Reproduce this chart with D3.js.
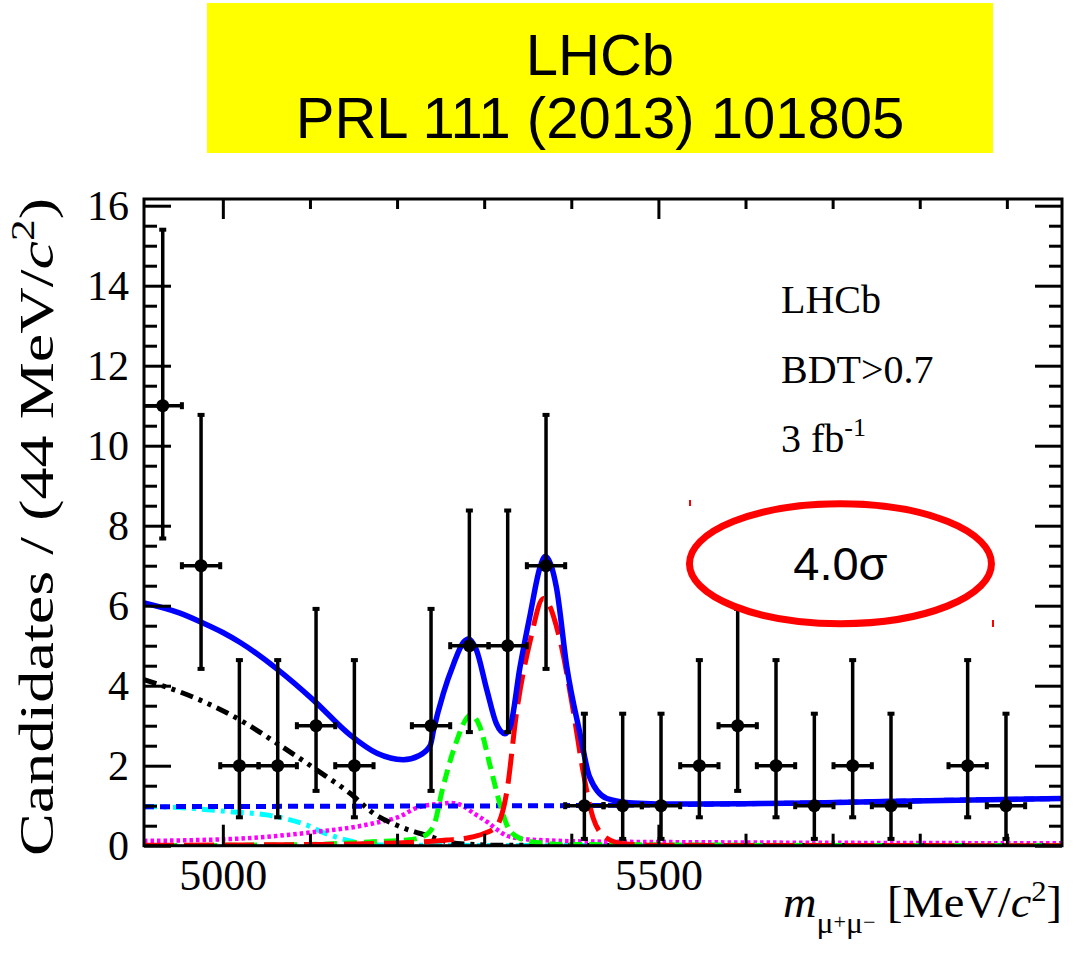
<!DOCTYPE html>
<html>
<head>
<meta charset="utf-8">
<script src="https://cdn.jsdelivr.net/npm/d3@7"></script>
<style>
html,body{margin:0;padding:0;background:#fff;}
svg{display:block;}
</style>
</head>
<body>
<svg id="chart" width="1082" height="979"></svg>
<script>
// ---------------- data ----------------
const binCenters = [4931, 4975, 5019, 5063, 5107, 5151, 5239, 5283, 5327, 5371, 5415, 5459, 5503, 5547, 5591, 5635, 5679, 5723, 5767, 5855, 5899];
const counts     = [11, 7, 2, 2, 3, 2, 3, 5, 5, 7, 1, 1, 1, 2, 3, 2, 1, 2, 1, 2, 1];
const errLow     = [3.32, 2.58, 1.29, 1.29, 1.63, 1.29, 1.63, 2.16, 2.16, 2.58, 0.83, 0.83, 0.83, 1.29, 1.63, 1.29, 0.83, 1.29, 0.83, 1.29, 0.83];
const errHigh    = [4.40, 3.77, 2.64, 2.64, 2.92, 2.64, 2.92, 3.38, 3.38, 3.77, 2.30, 2.30, 2.30, 2.64, 2.92, 2.64, 2.30, 2.64, 2.30, 2.64, 2.30];
const binHalfWidth = 22;

// total fit (blue solid)
const totalMass = [4909.5, 4950, 4974, 5000, 5020, 5062, 5104, 5146, 5177, 5207, 5225, 5238, 5242, 5253, 5265, 5276, 5282, 5291, 5303, 5314, 5324, 5330, 5341, 5353, 5364, 5370, 5383, 5395, 5410, 5421, 5441, 5471, 5525, 5600, 5678, 5792, 5963.3];
const totalVal  = [6.07, 5.82, 5.6, 5.33, 5.08, 4.42, 3.64, 2.77, 2.31, 2.15, 2.25, 2.5, 2.9, 3.8, 4.55, 5.08, 5.17, 4.9, 3.9, 3.05, 2.8, 2.98, 4.45, 5.8, 6.95, 7.23, 6.45, 4.45, 2.8, 1.72, 1.18, 1.07, 1.04, 1.05, 1.07, 1.12, 1.18];
// Bs signal (red long dashes)
const bsMass = [4909.5, 5100, 5200, 5257, 5282, 5299, 5314, 5326, 5337, 5353, 5368, 5387, 5402, 5414, 5425, 5440, 5460, 5500, 5963.3];
const bsVal  = [0.01, 0.03, 0.07, 0.14, 0.2, 0.3, 0.48, 1.35, 3.3, 5.14, 6.18, 5.14, 3.4, 1.8, 0.7, 0.2, 0.05, 0.01, 0];
// Bd signal (green dashes)
const bdMass = [4909.5, 5100, 5172, 5211, 5230, 5242, 5252, 5265, 5285, 5295, 5307, 5318, 5326, 5337, 5360, 5400, 5963.3];
const bdVal  = [0.0, 0.03, 0.1, 0.14, 0.23, 0.5, 1.4, 2.4, 3.27, 2.98, 1.98, 1.05, 0.52, 0.23, 0.08, 0.03, 0];
// partially reconstructed background (black dash-dot-dot)
const prMass = [4909.5, 4974, 5020, 5062, 5108, 5146, 5173, 5203, 5238, 5257, 5280, 5320, 5963.3];
const prVal  = [4.15, 3.64, 3.14, 2.56, 1.89, 1.31, 0.81, 0.48, 0.23, 0.1, 0.04, 0.01, 0];
// combinatorial background (blue short dashes)
const combMass = [4909.5, 5100, 5300, 5450, 5525, 5678, 5792, 5963.3];
const combVal  = [0.975, 0.985, 0.995, 1.01, 1.03, 1.07, 1.12, 1.18];
// cyan dash-dot background
const cyMass = [4909.5, 4950, 4982, 5008, 5050, 5075, 5096, 5115, 5142, 5160, 5200, 5963.3];
const cyVal  = [0.975, 0.955, 0.9, 0.85, 0.77, 0.66, 0.52, 0.33, 0.14, 0.05, 0.01, 0];
// magenta dotted background
const mgMass = [4909.5, 5012, 5096, 5173, 5203, 5223, 5250, 5262, 5275, 5288, 5303, 5315, 5326, 5345, 5364, 5441, 5963.3];
const mgVal  = [0.12, 0.17, 0.32, 0.56, 0.73, 0.95, 1.05, 1.07, 1.0, 0.81, 0.6, 0.4, 0.25, 0.17, 0.14, 0.1, 0.06];

const xMajorTicks = [5000, 5500];
const xMinorTicks = [5100, 5200, 5300, 5400, 5600, 5700, 5800, 5900];
const yMajorTicks = [0, 2, 4, 6, 8, 10, 12, 14, 16];
const yMinorTicks = [0.5,1,1.5,2.5,3,3.5,4.5,5,5.5,6.5,7,7.5,8.5,9,9.5,10.5,11,11.5,12.5,13,13.5,14.5,15,15.5];

const titleLines = ["LHCb", "PRL 111 (2013) 101805"];
const legendLines = ["LHCb", "BDT>0.7"];
const significance = "4.0σ";

// ---------------- layout ----------------
const L = 144, R = 1062, T = 199, B = 845.7;
const x = d3.scaleLinear().domain([4909.5, 5963.3]).range([L, R]);
const y = d3.scaleLinear().domain([0, 16]).range([B, 205.7]);

const svg = d3.select("#chart");
const serif = "'Liberation Serif','Times New Roman',serif";
const sans = "'Liberation Sans',Arial,sans-serif";

// title box
svg.append("rect").attr("x", 207).attr("y", 3).attr("width", 786).attr("height", 150).attr("fill", "#ffff00");
svg.selectAll("text.title").data(titleLines).enter().append("text")
  .attr("class", "title")
  .attr("x", 600).attr("y", (d, i) => i === 0 ? 75 : 138)
  .attr("text-anchor", "middle")
  .attr("font-family", sans).attr("font-size", 58).attr("fill", "#000")
  .text(d => d);

// clip
svg.append("clipPath").attr("id", "plotclip").append("rect")
  .attr("x", L).attr("y", T).attr("width", R - L).attr("height", B - T);

const g = svg.append("g").attr("clip-path", "url(#plotclip)");

function drawCurve(mass, val, color, width, dash) {
  const pts = mass.map((m, i) => [m, val[i]]);
  const line = d3.line().x(d => x(d[0])).y(d => y(d[1])).curve(d3.curveMonotoneX);
  const p = g.append("path").datum(pts).attr("d", line)
    .attr("fill", "none").attr("stroke", color).attr("stroke-width", width);
  if (dash) p.attr("stroke-dasharray", dash);
  return p;
}

drawCurve(cyMass, cyVal, "#00ffff", 5, "13,6,4,6");
drawCurve(mgMass, mgVal, "#ff00ff", 4.5, "3.5,3");
drawCurve(prMass, prVal, "#000000", 5, "13,6,4,6,4,6");
drawCurve(combMass, combVal, "#0000ff", 5, "10,6");
drawCurve(bdMass, bdVal, "#00ff00", 5, "13,7");
drawCurve(bsMass, bsVal, "#ff0000", 5, "30,10");
drawCurve(totalMass, totalVal, "#0000ff", 5.5, null);

// data points
const pts = binCenters.map((c, i) => ({c, n: counts[i], lo: counts[i] - errLow[i], hi: counts[i] + errHigh[i]}));
const dg = svg.append("g");
dg.selectAll("line.v").data(pts).enter().append("line")
  .attr("x1", d => x(d.c)).attr("x2", d => x(d.c))
  .attr("y1", d => y(d.lo)).attr("y2", d => y(d.hi))
  .attr("stroke", "#000").attr("stroke-width", 3.5);
dg.selectAll("line.h").data(pts).enter().append("line")
  .attr("x1", d => Math.max(L, x(d.c - binHalfWidth))).attr("x2", d => x(d.c + binHalfWidth))
  .attr("y1", d => y(d.n)).attr("y2", d => y(d.n))
  .attr("stroke", "#000").attr("stroke-width", 3.5);
["lo", "hi"].forEach(k => {
  dg.selectAll("rect.c" + k).data(pts).enter().append("rect")
    .attr("x", d => x(d.c) - 3.5).attr("y", d => y(d[k]) - 2)
    .attr("width", 7).attr("height", 4).attr("fill", "#000");
});
[-1, 1].forEach(s => {
  dg.selectAll("rect.h" + s).data(pts.filter(d => s > 0 || x(d.c - binHalfWidth) > L)).enter().append("rect")
    .attr("x", d => x(d.c + s * binHalfWidth) - 2).attr("y", d => y(d.n) - 3.5)
    .attr("width", 4).attr("height", 7).attr("fill", "#000");
});
dg.selectAll("circle").data(pts).enter().append("circle")
  .attr("cx", d => x(d.c)).attr("cy", d => y(d.n)).attr("r", 6.5).attr("fill", "#000");

// axes
function styleAxis(sel) {
  sel.select(".domain").remove();
  sel.selectAll(".tick line").attr("stroke", "#000").attr("stroke-width", 3);
}
const ax = svg.append("g");
ax.append("g").attr("transform", `translate(0,${B})`)
  .call(d3.axisBottom(x).tickValues(xMajorTicks).tickSizeInner(-21).tickSizeOuter(0).tickPadding(13).tickFormat(d3.format("d")))
  .call(styleAxis)
  .call(s => s.selectAll("text").attr("font-family", serif).attr("font-size", 44).attr("fill", "#000"));
ax.append("g").attr("transform", `translate(0,${B})`)
  .call(d3.axisBottom(x).tickValues(xMinorTicks).tickSizeInner(-12).tickSizeOuter(0).tickFormat(""))
  .call(styleAxis);
ax.append("g").attr("transform", `translate(0,${T})`)
  .call(d3.axisTop(x).tickValues(xMajorTicks).tickSizeInner(-20).tickSizeOuter(0).tickFormat(""))
  .call(styleAxis);
ax.append("g").attr("transform", `translate(0,${T})`)
  .call(d3.axisTop(x).tickValues(xMinorTicks).tickSizeInner(-10).tickSizeOuter(0).tickFormat(""))
  .call(styleAxis);
ax.append("g").attr("transform", `translate(${L},0)`)
  .call(d3.axisLeft(y).tickValues(yMajorTicks).tickSizeInner(-27).tickSizeOuter(0).tickPadding(15).tickFormat(d3.format("d")))
  .call(styleAxis)
  .call(s => s.selectAll("text").attr("font-family", serif).attr("font-size", 42).attr("fill", "#000"));
ax.append("g").attr("transform", `translate(${L},0)`)
  .call(d3.axisLeft(y).tickValues(yMinorTicks).tickSizeInner(-13).tickSizeOuter(0).tickFormat(""))
  .call(styleAxis);
ax.append("g").attr("transform", `translate(${R},0)`)
  .call(d3.axisRight(y).tickValues(yMajorTicks).tickSizeInner(-27).tickSizeOuter(0).tickFormat(""))
  .call(styleAxis);
ax.append("g").attr("transform", `translate(${R},0)`)
  .call(d3.axisRight(y).tickValues(yMinorTicks).tickSizeInner(-13).tickSizeOuter(0).tickFormat(""))
  .call(styleAxis);

svg.append("rect").attr("x", L).attr("y", T).attr("width", R - L).attr("height", B - T)
  .attr("fill", "none").attr("stroke", "#000").attr("stroke-width", 3);

// y title
const yt = svg.append("text")
  .attr("transform", "translate(53,198) rotate(-90)")
  .attr("text-anchor", "end")
  .attr("textLength", 658).attr("lengthAdjust", "spacingAndGlyphs")
  .attr("font-family", serif).attr("font-size", 49).attr("fill", "#000");
yt.append("tspan").text("Candidates / (44 MeV/");
yt.append("tspan").attr("font-style", "italic").text("c");
yt.append("tspan").attr("font-size", 33).attr("dy", -19).text("2");
yt.append("tspan").attr("dy", 19).text(")");

// x title
const xt = svg.append("text")
  .attr("x", R).attr("y", 917)
  .attr("text-anchor", "end")
  .attr("textLength", 279).attr("lengthAdjust", "spacingAndGlyphs")
  .attr("font-family", serif).attr("font-size", 44).attr("fill", "#000");
xt.append("tspan").attr("font-style", "italic").text("m");
xt.append("tspan").attr("font-size", 30).attr("dy", 16).text("μ");
xt.append("tspan").attr("font-size", 21).attr("dy", -4).text("+");
xt.append("tspan").attr("font-size", 30).attr("dy", 4).text("μ");
xt.append("tspan").attr("font-size", 21).attr("dy", -4).text("−");
xt.append("tspan").attr("dy", -12).text(" [MeV/");
xt.append("tspan").attr("font-style", "italic").text("c");
xt.append("tspan").attr("font-size", 29).attr("dy", -16).text("2");
xt.append("tspan").attr("dy", 16).text("]");

// legend text
const lg = svg.append("g").attr("font-family", serif).attr("font-size", 40).attr("fill", "#000");
lg.selectAll("text.lg").data(legendLines).enter().append("text")
  .attr("x", 781).attr("y", (d, i) => 313 + 70 * i).text(d => d);
const fb = lg.append("text").attr("x", 781).attr("y", 452);
fb.append("tspan").text("3 fb");
fb.append("tspan").attr("font-size", 26).attr("dy", -16).text("-1");

// significance ellipse
svg.append("ellipse").attr("cx", x(5709)).attr("cy", y(7.05)).attr("rx", 151).attr("ry", 60)
  .attr("fill", "#fff").attr("stroke", "#ff0000").attr("stroke-width", 7);
svg.append("text").attr("x", x(5709)).attr("y", 580).attr("text-anchor", "middle")
  .attr("font-family", sans).attr("font-size", 47).attr("fill", "#000").text(significance);
svg.append("line").attr("x1", 690).attr("x2", 690).attr("y1", 500).attr("y2", 506).attr("stroke", "#ff0000").attr("stroke-width", 2);
svg.append("line").attr("x1", 993).attr("x2", 993).attr("y1", 620).attr("y2", 627).attr("stroke", "#ff0000").attr("stroke-width", 2);
</script>
</body>
</html>
